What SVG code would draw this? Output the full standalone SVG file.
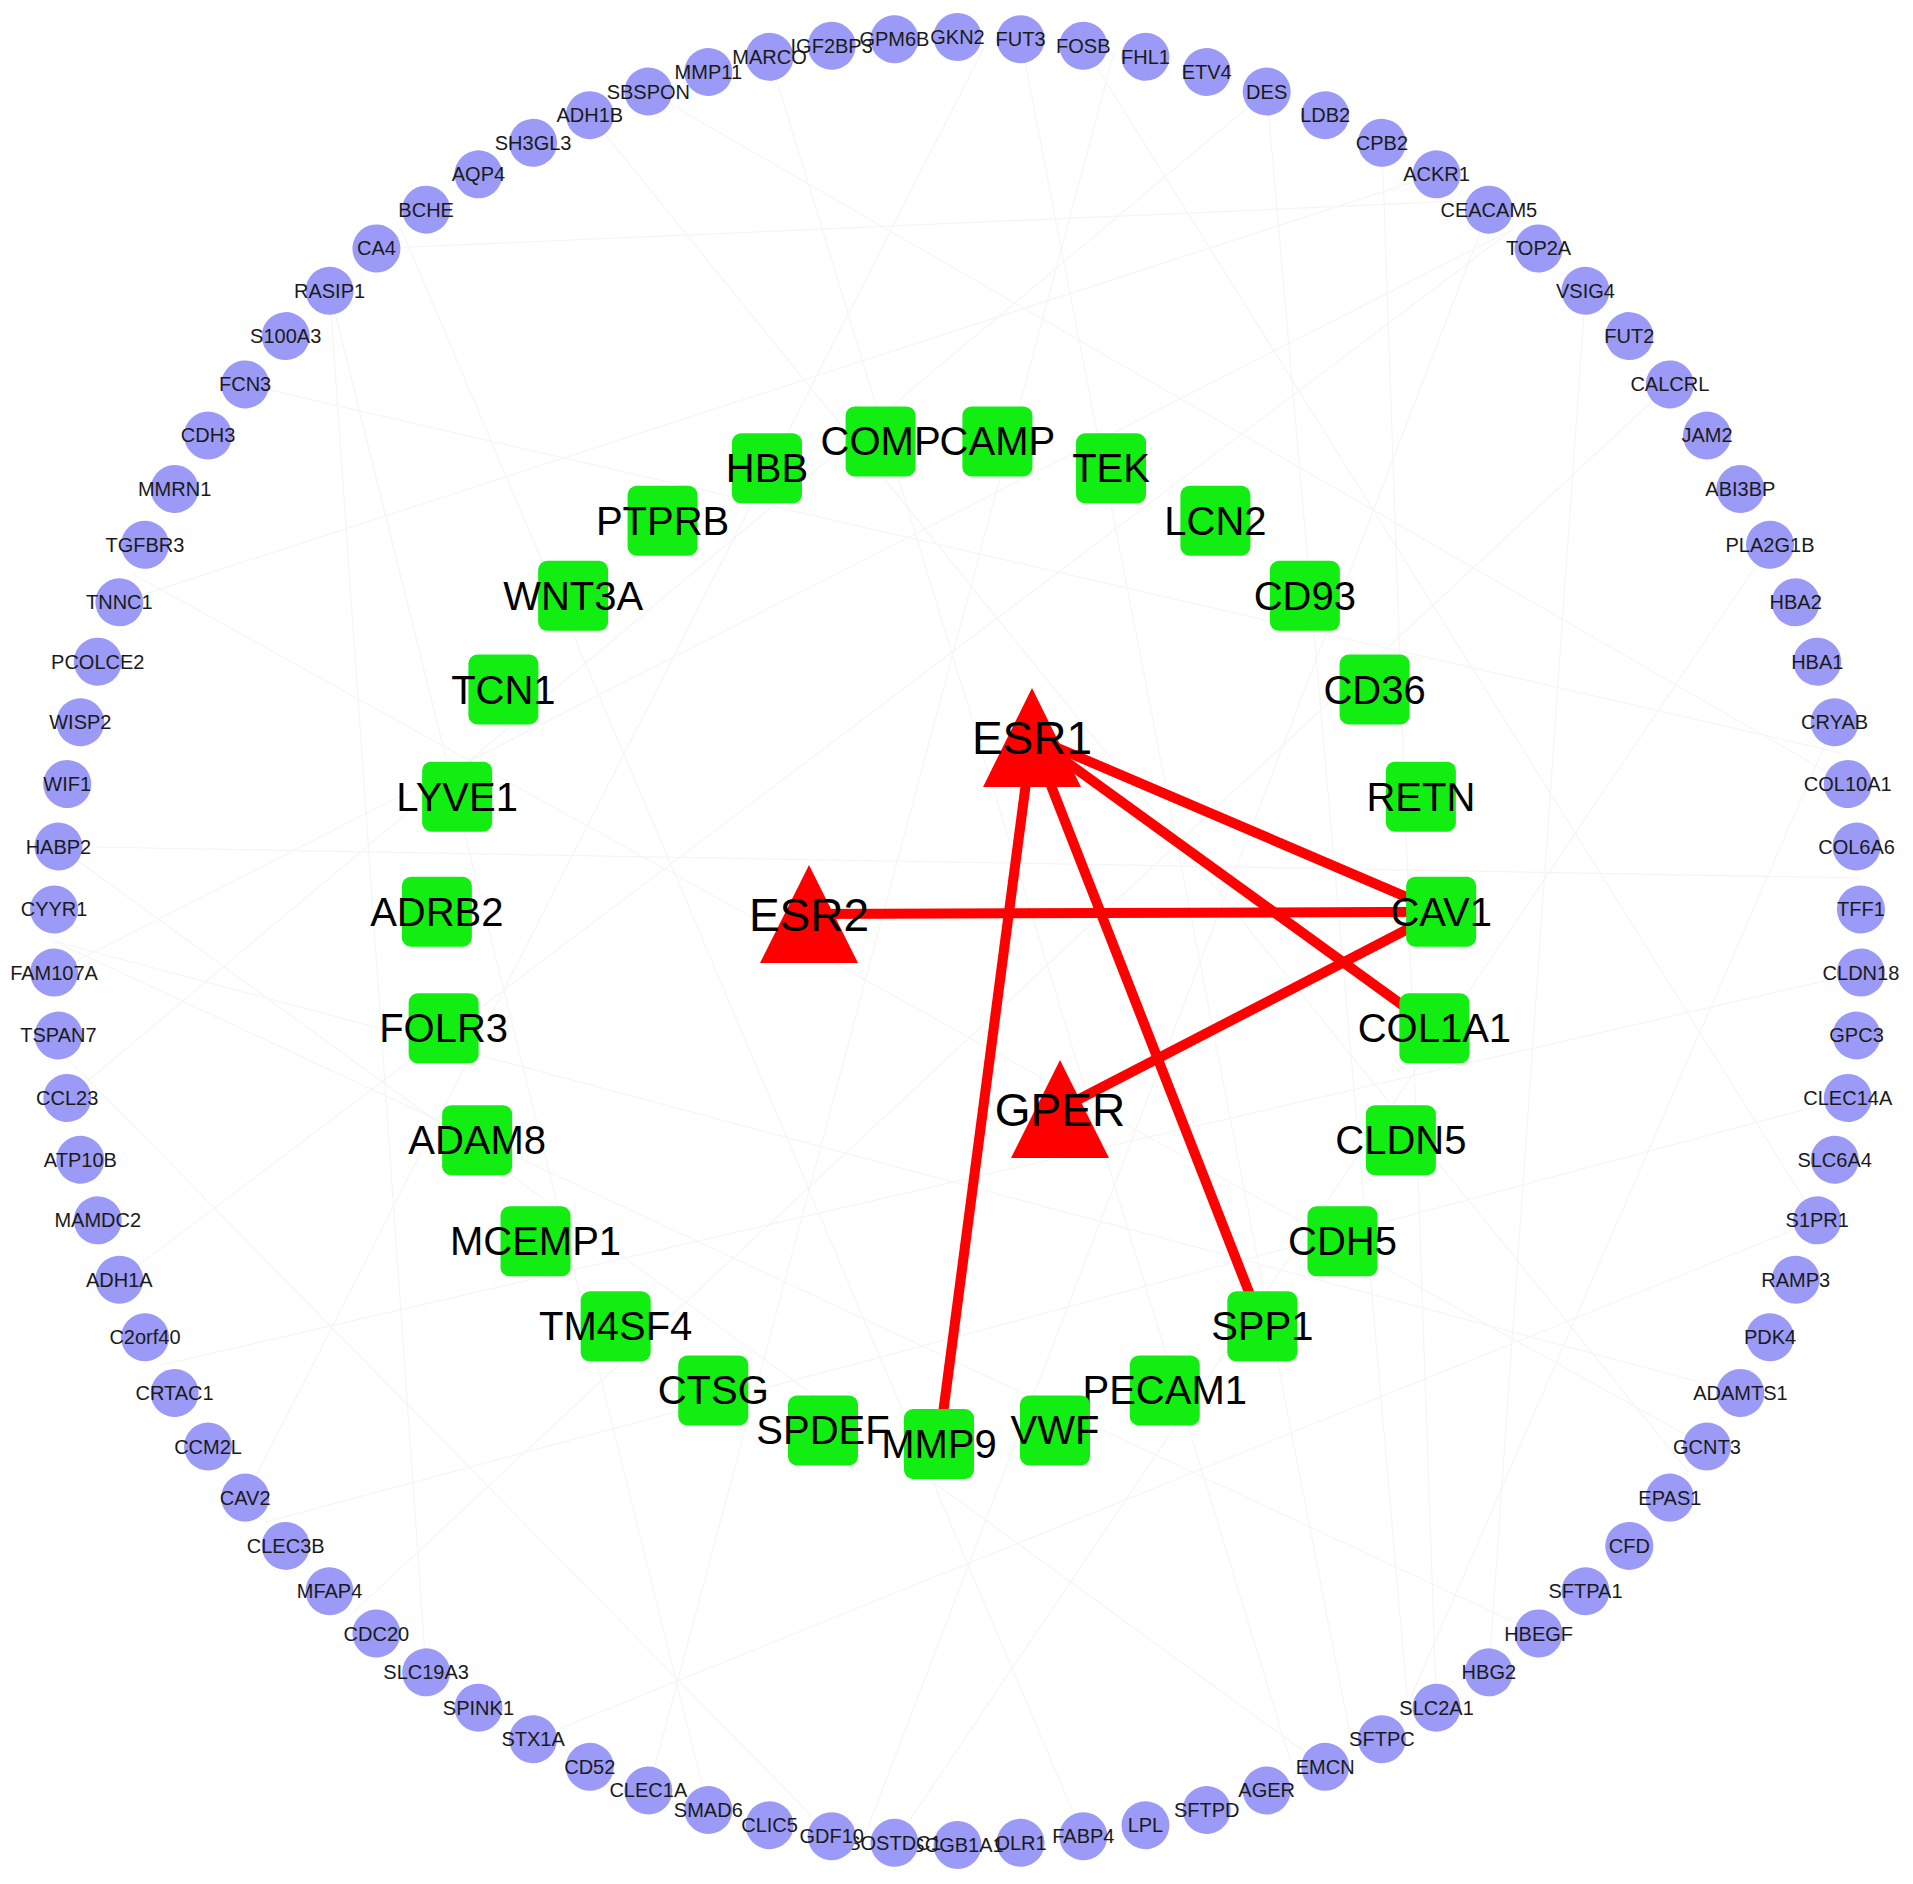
<svg xmlns="http://www.w3.org/2000/svg" xmlns:xlink="http://www.w3.org/1999/xlink" width="1913" height="1884" viewBox="0 0 1913 1884">
<style>
.o circle{fill:#9b9bf7}
.o text{font-family:"Liberation Sans",Arial,sans-serif;font-size:20px;fill:#1a1a1a;text-anchor:middle}
.i rect{fill:#12ee12}
.i text{font-family:"Liberation Sans",Arial,sans-serif;font-size:40px;fill:#000;text-anchor:middle}
.t polygon{fill:#ff0000}
.t text{font-family:"Liberation Sans",Arial,sans-serif;font-size:46px;fill:#000;text-anchor:middle}
.red line{stroke:#ff0000;stroke-width:10;stroke-linecap:butt}
.faint use{stroke:#f5f5f5;stroke-width:1.2}
</style>
<defs>
<line id="c75" x1="957.5" y1="37" x2="1830.7" y2="707"/>
<line id="c100" x1="957.5" y1="37" x2="1847.8" y2="1098"/>
<line id="c120" x1="957.5" y1="37" x2="1740.4" y2="1393"/>
<line id="c130" x1="957.5" y1="37" x2="1650" y2="1522.1"/>
<line id="c150" x1="957.5" y1="37" x2="1409.5" y2="1723.9"/>
<line id="c170" x1="957.5" y1="37" x2="1114.5" y2="1831.3"/>
</defs>
<rect width="1913" height="1884" fill="#fff"/>
<g id="edges">
<g class="faint">
<use xlink:href="#c100" transform="rotate(8 957.5 941)"/>
<use xlink:href="#c130" transform="rotate(20 957.5 941)"/>
<use xlink:href="#c150" transform="rotate(36 957.5 941)"/>
<use xlink:href="#c170" transform="rotate(52 957.5 941)"/>
<use xlink:href="#c120" transform="rotate(64 957.5 941)"/>
<use xlink:href="#c75" transform="rotate(76 957.5 941)"/>
<use xlink:href="#c150" transform="rotate(92 957.5 941)"/>
<use xlink:href="#c100" transform="rotate(108 957.5 941)"/>
<use xlink:href="#c170" transform="rotate(124 957.5 941)"/>
<use xlink:href="#c130" transform="rotate(140 957.5 941)"/>
<use xlink:href="#c120" transform="rotate(156 957.5 941)"/>
<use xlink:href="#c150" transform="rotate(172 957.5 941)"/>
<use xlink:href="#c75" transform="rotate(188 957.5 941)"/>
<use xlink:href="#c170" transform="rotate(200 957.5 941)"/>
<use xlink:href="#c100" transform="rotate(216 957.5 941)"/>
<use xlink:href="#c130" transform="rotate(232 957.5 941)"/>
<use xlink:href="#c150" transform="rotate(248 957.5 941)"/>
<use xlink:href="#c120" transform="rotate(260 957.5 941)"/>
<use xlink:href="#c170" transform="rotate(276 957.5 941)"/>
<use xlink:href="#c100" transform="rotate(292 957.5 941)"/>
<use xlink:href="#c130" transform="rotate(308 957.5 941)"/>
<use xlink:href="#c75" transform="rotate(320 957.5 941)"/>
<use xlink:href="#c150" transform="rotate(336 957.5 941)"/>
<use xlink:href="#c170" transform="rotate(348 957.5 941)"/>
<use xlink:href="#c120" transform="rotate(28 957.5 941)"/>
<use xlink:href="#c100" transform="rotate(44 957.5 941)"/>
<use xlink:href="#c130" transform="rotate(100 957.5 941)"/>
<use xlink:href="#c150" transform="rotate(120 957.5 941)"/>
<use xlink:href="#c120" transform="rotate(196 957.5 941)"/>
<use xlink:href="#c130" transform="rotate(268 957.5 941)"/>
<use xlink:href="#c100" transform="rotate(340 957.5 941)"/>
<use xlink:href="#c150" transform="rotate(4 957.5 941)"/>
</g>
<g class="red">
<line x1="1032" y1="737" x2="1441.1" y2="911.8"/>
<line x1="1032" y1="737" x2="1434.4" y2="1028.3"/>
<line x1="1032" y1="737" x2="1262.3" y2="1326.3"/>
<line x1="1032" y1="737" x2="939" y2="1444"/>
<line x1="809" y1="914" x2="1441.1" y2="911.8"/>
<line x1="1060" y1="1109" x2="1441.1" y2="911.8"/>
</g>
</g>
<g id="outer">
<g id="GKN2" class="o" transform="rotate(0 957.5 941)"><circle cx="957.5" cy="37" r="24"/><text x="957.5" y="44" transform="rotate(0 957.5 37)">GKN2</text></g>
<g id="FUT3" class="o" transform="rotate(4 957.5 941)"><circle cx="957.5" cy="37" r="24"/><text x="957.5" y="44" transform="rotate(-4 957.5 37)">FUT3</text></g>
<g id="FOSB" class="o" transform="rotate(8 957.5 941)"><circle cx="957.5" cy="37" r="24"/><text x="957.5" y="44" transform="rotate(-8 957.5 37)">FOSB</text></g>
<g id="FHL1" class="o" transform="rotate(12 957.5 941)"><circle cx="957.5" cy="37" r="24"/><text x="957.5" y="44" transform="rotate(-12 957.5 37)">FHL1</text></g>
<g id="ETV4" class="o" transform="rotate(16 957.5 941)"><circle cx="957.5" cy="37" r="24"/><text x="957.5" y="44" transform="rotate(-16 957.5 37)">ETV4</text></g>
<g id="DES" class="o" transform="rotate(20 957.5 941)"><circle cx="957.5" cy="37" r="24"/><text x="957.5" y="44" transform="rotate(-20 957.5 37)">DES</text></g>
<g id="LDB2" class="o" transform="rotate(24 957.5 941)"><circle cx="957.5" cy="37" r="24"/><text x="957.5" y="44" transform="rotate(-24 957.5 37)">LDB2</text></g>
<g id="CPB2" class="o" transform="rotate(28 957.5 941)"><circle cx="957.5" cy="37" r="24"/><text x="957.5" y="44" transform="rotate(-28 957.5 37)">CPB2</text></g>
<g id="ACKR1" class="o" transform="rotate(32 957.5 941)"><circle cx="957.5" cy="37" r="24"/><text x="957.5" y="44" transform="rotate(-32 957.5 37)">ACKR1</text></g>
<g id="CEACAM5" class="o" transform="rotate(36 957.5 941)"><circle cx="957.5" cy="37" r="24"/><text x="957.5" y="44" transform="rotate(-36 957.5 37)">CEACAM5</text></g>
<g id="TOP2A" class="o" transform="rotate(40 957.5 941)"><circle cx="957.5" cy="37" r="24"/><text x="957.5" y="44" transform="rotate(-40 957.5 37)">TOP2A</text></g>
<g id="VSIG4" class="o" transform="rotate(44 957.5 941)"><circle cx="957.5" cy="37" r="24"/><text x="957.5" y="44" transform="rotate(-44 957.5 37)">VSIG4</text></g>
<g id="FUT2" class="o" transform="rotate(48 957.5 941)"><circle cx="957.5" cy="37" r="24"/><text x="957.5" y="44" transform="rotate(-48 957.5 37)">FUT2</text></g>
<g id="CALCRL" class="o" transform="rotate(52 957.5 941)"><circle cx="957.5" cy="37" r="24"/><text x="957.5" y="44" transform="rotate(-52 957.5 37)">CALCRL</text></g>
<g id="JAM2" class="o" transform="rotate(56 957.5 941)"><circle cx="957.5" cy="37" r="24"/><text x="957.5" y="44" transform="rotate(-56 957.5 37)">JAM2</text></g>
<g id="ABI3BP" class="o" transform="rotate(60 957.5 941)"><circle cx="957.5" cy="37" r="24"/><text x="957.5" y="44" transform="rotate(-60 957.5 37)">ABI3BP</text></g>
<g id="PLA2G1B" class="o" transform="rotate(64 957.5 941)"><circle cx="957.5" cy="37" r="24"/><text x="957.5" y="44" transform="rotate(-64 957.5 37)">PLA2G1B</text></g>
<g id="HBA2" class="o" transform="rotate(68 957.5 941)"><circle cx="957.5" cy="37" r="24"/><text x="957.5" y="44" transform="rotate(-68 957.5 37)">HBA2</text></g>
<g id="HBA1" class="o" transform="rotate(72 957.5 941)"><circle cx="957.5" cy="37" r="24"/><text x="957.5" y="44" transform="rotate(-72 957.5 37)">HBA1</text></g>
<g id="CRYAB" class="o" transform="rotate(76 957.5 941)"><circle cx="957.5" cy="37" r="24"/><text x="957.5" y="44" transform="rotate(-76 957.5 37)">CRYAB</text></g>
<g id="COL10A1" class="o" transform="rotate(80 957.5 941)"><circle cx="957.5" cy="37" r="24"/><text x="957.5" y="44" transform="rotate(-80 957.5 37)">COL10A1</text></g>
<g id="COL6A6" class="o" transform="rotate(84 957.5 941)"><circle cx="957.5" cy="37" r="24"/><text x="957.5" y="44" transform="rotate(-84 957.5 37)">COL6A6</text></g>
<g id="TFF1" class="o" transform="rotate(88 957.5 941)"><circle cx="957.5" cy="37" r="24"/><text x="957.5" y="44" transform="rotate(-88 957.5 37)">TFF1</text></g>
<g id="CLDN18" class="o" transform="rotate(92 957.5 941)"><circle cx="957.5" cy="37" r="24"/><text x="957.5" y="44" transform="rotate(-92 957.5 37)">CLDN18</text></g>
<g id="GPC3" class="o" transform="rotate(96 957.5 941)"><circle cx="957.5" cy="37" r="24"/><text x="957.5" y="44" transform="rotate(-96 957.5 37)">GPC3</text></g>
<g id="CLEC14A" class="o" transform="rotate(100 957.5 941)"><circle cx="957.5" cy="37" r="24"/><text x="957.5" y="44" transform="rotate(-100 957.5 37)">CLEC14A</text></g>
<g id="SLC6A4" class="o" transform="rotate(104 957.5 941)"><circle cx="957.5" cy="37" r="24"/><text x="957.5" y="44" transform="rotate(-104 957.5 37)">SLC6A4</text></g>
<g id="S1PR1" class="o" transform="rotate(108 957.5 941)"><circle cx="957.5" cy="37" r="24"/><text x="957.5" y="44" transform="rotate(-108 957.5 37)">S1PR1</text></g>
<g id="RAMP3" class="o" transform="rotate(112 957.5 941)"><circle cx="957.5" cy="37" r="24"/><text x="957.5" y="44" transform="rotate(-112 957.5 37)">RAMP3</text></g>
<g id="PDK4" class="o" transform="rotate(116 957.5 941)"><circle cx="957.5" cy="37" r="24"/><text x="957.5" y="44" transform="rotate(-116 957.5 37)">PDK4</text></g>
<g id="ADAMTS1" class="o" transform="rotate(120 957.5 941)"><circle cx="957.5" cy="37" r="24"/><text x="957.5" y="44" transform="rotate(-120 957.5 37)">ADAMTS1</text></g>
<g id="GCNT3" class="o" transform="rotate(124 957.5 941)"><circle cx="957.5" cy="37" r="24"/><text x="957.5" y="44" transform="rotate(-124 957.5 37)">GCNT3</text></g>
<g id="EPAS1" class="o" transform="rotate(128 957.5 941)"><circle cx="957.5" cy="37" r="24"/><text x="957.5" y="44" transform="rotate(-128 957.5 37)">EPAS1</text></g>
<g id="CFD" class="o" transform="rotate(132 957.5 941)"><circle cx="957.5" cy="37" r="24"/><text x="957.5" y="44" transform="rotate(-132 957.5 37)">CFD</text></g>
<g id="SFTPA1" class="o" transform="rotate(136 957.5 941)"><circle cx="957.5" cy="37" r="24"/><text x="957.5" y="44" transform="rotate(-136 957.5 37)">SFTPA1</text></g>
<g id="HBEGF" class="o" transform="rotate(140 957.5 941)"><circle cx="957.5" cy="37" r="24"/><text x="957.5" y="44" transform="rotate(-140 957.5 37)">HBEGF</text></g>
<g id="HBG2" class="o" transform="rotate(144 957.5 941)"><circle cx="957.5" cy="37" r="24"/><text x="957.5" y="44" transform="rotate(-144 957.5 37)">HBG2</text></g>
<g id="SLC2A1" class="o" transform="rotate(148 957.5 941)"><circle cx="957.5" cy="37" r="24"/><text x="957.5" y="44" transform="rotate(-148 957.5 37)">SLC2A1</text></g>
<g id="SFTPC" class="o" transform="rotate(152 957.5 941)"><circle cx="957.5" cy="37" r="24"/><text x="957.5" y="44" transform="rotate(-152 957.5 37)">SFTPC</text></g>
<g id="EMCN" class="o" transform="rotate(156 957.5 941)"><circle cx="957.5" cy="37" r="24"/><text x="957.5" y="44" transform="rotate(-156 957.5 37)">EMCN</text></g>
<g id="AGER" class="o" transform="rotate(160 957.5 941)"><circle cx="957.5" cy="37" r="24"/><text x="957.5" y="44" transform="rotate(-160 957.5 37)">AGER</text></g>
<g id="SFTPD" class="o" transform="rotate(164 957.5 941)"><circle cx="957.5" cy="37" r="24"/><text x="957.5" y="44" transform="rotate(-164 957.5 37)">SFTPD</text></g>
<g id="LPL" class="o" transform="rotate(168 957.5 941)"><circle cx="957.5" cy="37" r="24"/><text x="957.5" y="44" transform="rotate(-168 957.5 37)">LPL</text></g>
<g id="FABP4" class="o" transform="rotate(172 957.5 941)"><circle cx="957.5" cy="37" r="24"/><text x="957.5" y="44" transform="rotate(-172 957.5 37)">FABP4</text></g>
<g id="OLR1" class="o" transform="rotate(176 957.5 941)"><circle cx="957.5" cy="37" r="24"/><text x="957.5" y="44" transform="rotate(-176 957.5 37)">OLR1</text></g>
<g id="SCGB1A1" class="o" transform="rotate(180 957.5 941)"><circle cx="957.5" cy="37" r="24"/><text x="957.5" y="44" transform="rotate(-180 957.5 37)">SCGB1A1</text></g>
<g id="SOSTDC1" class="o" transform="rotate(184 957.5 941)"><circle cx="957.5" cy="37" r="24"/><text x="957.5" y="44" transform="rotate(-184 957.5 37)">SOSTDC1</text></g>
<g id="GDF10" class="o" transform="rotate(188 957.5 941)"><circle cx="957.5" cy="37" r="24"/><text x="957.5" y="44" transform="rotate(-188 957.5 37)">GDF10</text></g>
<g id="CLIC5" class="o" transform="rotate(192 957.5 941)"><circle cx="957.5" cy="37" r="24"/><text x="957.5" y="44" transform="rotate(-192 957.5 37)">CLIC5</text></g>
<g id="SMAD6" class="o" transform="rotate(196 957.5 941)"><circle cx="957.5" cy="37" r="24"/><text x="957.5" y="44" transform="rotate(-196 957.5 37)">SMAD6</text></g>
<g id="CLEC1A" class="o" transform="rotate(200 957.5 941)"><circle cx="957.5" cy="37" r="24"/><text x="957.5" y="44" transform="rotate(-200 957.5 37)">CLEC1A</text></g>
<g id="CD52" class="o" transform="rotate(204 957.5 941)"><circle cx="957.5" cy="37" r="24"/><text x="957.5" y="44" transform="rotate(-204 957.5 37)">CD52</text></g>
<g id="STX1A" class="o" transform="rotate(208 957.5 941)"><circle cx="957.5" cy="37" r="24"/><text x="957.5" y="44" transform="rotate(-208 957.5 37)">STX1A</text></g>
<g id="SPINK1" class="o" transform="rotate(212 957.5 941)"><circle cx="957.5" cy="37" r="24"/><text x="957.5" y="44" transform="rotate(-212 957.5 37)">SPINK1</text></g>
<g id="SLC19A3" class="o" transform="rotate(216 957.5 941)"><circle cx="957.5" cy="37" r="24"/><text x="957.5" y="44" transform="rotate(-216 957.5 37)">SLC19A3</text></g>
<g id="CDC20" class="o" transform="rotate(220 957.5 941)"><circle cx="957.5" cy="37" r="24"/><text x="957.5" y="44" transform="rotate(-220 957.5 37)">CDC20</text></g>
<g id="MFAP4" class="o" transform="rotate(224 957.5 941)"><circle cx="957.5" cy="37" r="24"/><text x="957.5" y="44" transform="rotate(-224 957.5 37)">MFAP4</text></g>
<g id="CLEC3B" class="o" transform="rotate(228 957.5 941)"><circle cx="957.5" cy="37" r="24"/><text x="957.5" y="44" transform="rotate(-228 957.5 37)">CLEC3B</text></g>
<g id="CAV2" class="o" transform="rotate(232 957.5 941)"><circle cx="957.5" cy="37" r="24"/><text x="957.5" y="44" transform="rotate(-232 957.5 37)">CAV2</text></g>
<g id="CCM2L" class="o" transform="rotate(236 957.5 941)"><circle cx="957.5" cy="37" r="24"/><text x="957.5" y="44" transform="rotate(-236 957.5 37)">CCM2L</text></g>
<g id="CRTAC1" class="o" transform="rotate(240 957.5 941)"><circle cx="957.5" cy="37" r="24"/><text x="957.5" y="44" transform="rotate(-240 957.5 37)">CRTAC1</text></g>
<g id="C2orf40" class="o" transform="rotate(244 957.5 941)"><circle cx="957.5" cy="37" r="24"/><text x="957.5" y="44" transform="rotate(-244 957.5 37)">C2orf40</text></g>
<g id="ADH1A" class="o" transform="rotate(248 957.5 941)"><circle cx="957.5" cy="37" r="24"/><text x="957.5" y="44" transform="rotate(-248 957.5 37)">ADH1A</text></g>
<g id="MAMDC2" class="o" transform="rotate(252 957.5 941)"><circle cx="957.5" cy="37" r="24"/><text x="957.5" y="44" transform="rotate(-252 957.5 37)">MAMDC2</text></g>
<g id="ATP10B" class="o" transform="rotate(256 957.5 941)"><circle cx="957.5" cy="37" r="24"/><text x="957.5" y="44" transform="rotate(-256 957.5 37)">ATP10B</text></g>
<g id="CCL23" class="o" transform="rotate(260 957.5 941)"><circle cx="957.5" cy="37" r="24"/><text x="957.5" y="44" transform="rotate(-260 957.5 37)">CCL23</text></g>
<g id="TSPAN7" class="o" transform="rotate(264 957.5 941)"><circle cx="957.5" cy="37" r="24"/><text x="957.5" y="44" transform="rotate(-264 957.5 37)">TSPAN7</text></g>
<g id="FAM107A" class="o" transform="rotate(268 957.5 941)"><circle cx="957.5" cy="37" r="24"/><text x="957.5" y="44" transform="rotate(-268 957.5 37)">FAM107A</text></g>
<g id="CYYR1" class="o" transform="rotate(272 957.5 941)"><circle cx="957.5" cy="37" r="24"/><text x="957.5" y="44" transform="rotate(-272 957.5 37)">CYYR1</text></g>
<g id="HABP2" class="o" transform="rotate(276 957.5 941)"><circle cx="957.5" cy="37" r="24"/><text x="957.5" y="44" transform="rotate(-276 957.5 37)">HABP2</text></g>
<g id="WIF1" class="o" transform="rotate(280 957.5 941)"><circle cx="957.5" cy="37" r="24"/><text x="957.5" y="44" transform="rotate(-280 957.5 37)">WIF1</text></g>
<g id="WISP2" class="o" transform="rotate(284 957.5 941)"><circle cx="957.5" cy="37" r="24"/><text x="957.5" y="44" transform="rotate(-284 957.5 37)">WISP2</text></g>
<g id="PCOLCE2" class="o" transform="rotate(288 957.5 941)"><circle cx="957.5" cy="37" r="24"/><text x="957.5" y="44" transform="rotate(-288 957.5 37)">PCOLCE2</text></g>
<g id="TNNC1" class="o" transform="rotate(292 957.5 941)"><circle cx="957.5" cy="37" r="24"/><text x="957.5" y="44" transform="rotate(-292 957.5 37)">TNNC1</text></g>
<g id="TGFBR3" class="o" transform="rotate(296 957.5 941)"><circle cx="957.5" cy="37" r="24"/><text x="957.5" y="44" transform="rotate(-296 957.5 37)">TGFBR3</text></g>
<g id="MMRN1" class="o" transform="rotate(300 957.5 941)"><circle cx="957.5" cy="37" r="24"/><text x="957.5" y="44" transform="rotate(-300 957.5 37)">MMRN1</text></g>
<g id="CDH3" class="o" transform="rotate(304 957.5 941)"><circle cx="957.5" cy="37" r="24"/><text x="957.5" y="44" transform="rotate(-304 957.5 37)">CDH3</text></g>
<g id="FCN3" class="o" transform="rotate(308 957.5 941)"><circle cx="957.5" cy="37" r="24"/><text x="957.5" y="44" transform="rotate(-308 957.5 37)">FCN3</text></g>
<g id="S100A3" class="o" transform="rotate(312 957.5 941)"><circle cx="957.5" cy="37" r="24"/><text x="957.5" y="44" transform="rotate(-312 957.5 37)">S100A3</text></g>
<g id="RASIP1" class="o" transform="rotate(316 957.5 941)"><circle cx="957.5" cy="37" r="24"/><text x="957.5" y="44" transform="rotate(-316 957.5 37)">RASIP1</text></g>
<g id="CA4" class="o" transform="rotate(320 957.5 941)"><circle cx="957.5" cy="37" r="24"/><text x="957.5" y="44" transform="rotate(-320 957.5 37)">CA4</text></g>
<g id="BCHE" class="o" transform="rotate(324 957.5 941)"><circle cx="957.5" cy="37" r="24"/><text x="957.5" y="44" transform="rotate(-324 957.5 37)">BCHE</text></g>
<g id="AQP4" class="o" transform="rotate(328 957.5 941)"><circle cx="957.5" cy="37" r="24"/><text x="957.5" y="44" transform="rotate(-328 957.5 37)">AQP4</text></g>
<g id="SH3GL3" class="o" transform="rotate(332 957.5 941)"><circle cx="957.5" cy="37" r="24"/><text x="957.5" y="44" transform="rotate(-332 957.5 37)">SH3GL3</text></g>
<g id="ADH1B" class="o" transform="rotate(336 957.5 941)"><circle cx="957.5" cy="37" r="24"/><text x="957.5" y="44" transform="rotate(-336 957.5 37)">ADH1B</text></g>
<g id="SBSPON" class="o" transform="rotate(340 957.5 941)"><circle cx="957.5" cy="37" r="24"/><text x="957.5" y="44" transform="rotate(-340 957.5 37)">SBSPON</text></g>
<g id="MMP11" class="o" transform="rotate(344 957.5 941)"><circle cx="957.5" cy="37" r="24"/><text x="957.5" y="44" transform="rotate(-344 957.5 37)">MMP11</text></g>
<g id="MARCO" class="o" transform="rotate(348 957.5 941)"><circle cx="957.5" cy="37" r="24"/><text x="957.5" y="44" transform="rotate(-348 957.5 37)">MARCO</text></g>
<g id="IGF2BP3" class="o" transform="rotate(352 957.5 941)"><circle cx="957.5" cy="37" r="24"/><text x="957.5" y="44" transform="rotate(-352 957.5 37)">IGF2BP3</text></g>
<g id="GPM6B" class="o" transform="rotate(356 957.5 941)"><circle cx="957.5" cy="37" r="24"/><text x="957.5" y="44" transform="rotate(-356 957.5 37)">GPM6B</text></g>
</g>
<g id="inner">
<g id="COMP" class="i" transform="rotate(353.333 939 941)"><g transform="rotate(-353.333 939 438)"><rect x="904" y="403" width="70" height="70" rx="9"/><text x="939" y="452">COMP</text></g></g>
<g id="CAMP" class="i" transform="rotate(6.667 939 941)"><g transform="rotate(-6.667 939 438)"><rect x="904" y="403" width="70" height="70" rx="9"/><text x="939" y="452">CAMP</text></g></g>
<g id="TEK" class="i" transform="rotate(20 939 941)"><g transform="rotate(-20 939 438)"><rect x="904" y="403" width="70" height="70" rx="9"/><text x="939" y="452">TEK</text></g></g>
<g id="LCN2" class="i" transform="rotate(33.333 939 941)"><g transform="rotate(-33.333 939 438)"><rect x="904" y="403" width="70" height="70" rx="9"/><text x="939" y="452">LCN2</text></g></g>
<g id="CD93" class="i" transform="rotate(46.667 939 941)"><g transform="rotate(-46.667 939 438)"><rect x="904" y="403" width="70" height="70" rx="9"/><text x="939" y="452">CD93</text></g></g>
<g id="CD36" class="i" transform="rotate(60 939 941)"><g transform="rotate(-60 939 438)"><rect x="904" y="403" width="70" height="70" rx="9"/><text x="939" y="452">CD36</text></g></g>
<g id="RETN" class="i" transform="rotate(73.333 939 941)"><g transform="rotate(-73.333 939 438)"><rect x="904" y="403" width="70" height="70" rx="9"/><text x="939" y="452">RETN</text></g></g>
<g id="CAV1" class="i" transform="rotate(86.667 939 941)"><g transform="rotate(-86.667 939 438)"><rect x="904" y="403" width="70" height="70" rx="9"/><text x="939" y="452">CAV1</text></g></g>
<g id="COL1A1" class="i" transform="rotate(100 939 941)"><g transform="rotate(-100 939 438)"><rect x="904" y="403" width="70" height="70" rx="9"/><text x="939" y="452">COL1A1</text></g></g>
<g id="CLDN5" class="i" transform="rotate(113.333 939 941)"><g transform="rotate(-113.333 939 438)"><rect x="904" y="403" width="70" height="70" rx="9"/><text x="939" y="452">CLDN5</text></g></g>
<g id="CDH5" class="i" transform="rotate(126.667 939 941)"><g transform="rotate(-126.667 939 438)"><rect x="904" y="403" width="70" height="70" rx="9"/><text x="939" y="452">CDH5</text></g></g>
<g id="SPP1" class="i" transform="rotate(140 939 941)"><g transform="rotate(-140 939 438)"><rect x="904" y="403" width="70" height="70" rx="9"/><text x="939" y="452">SPP1</text></g></g>
<g id="PECAM1" class="i" transform="rotate(153.333 939 941)"><g transform="rotate(-153.333 939 438)"><rect x="904" y="403" width="70" height="70" rx="9"/><text x="939" y="452">PECAM1</text></g></g>
<g id="VWF" class="i" transform="rotate(166.667 939 941)"><g transform="rotate(-166.667 939 438)"><rect x="904" y="403" width="70" height="70" rx="9"/><text x="939" y="452">VWF</text></g></g>
<g id="MMP9" class="i" transform="rotate(180 939 941)"><g transform="rotate(-180 939 438)"><rect x="904" y="403" width="70" height="70" rx="9"/><text x="939" y="452">MMP9</text></g></g>
<g id="SPDEF" class="i" transform="rotate(193.333 939 941)"><g transform="rotate(-193.333 939 438)"><rect x="904" y="403" width="70" height="70" rx="9"/><text x="939" y="452">SPDEF</text></g></g>
<g id="CTSG" class="i" transform="rotate(206.667 939 941)"><g transform="rotate(-206.667 939 438)"><rect x="904" y="403" width="70" height="70" rx="9"/><text x="939" y="452">CTSG</text></g></g>
<g id="TM4SF4" class="i" transform="rotate(220 939 941)"><g transform="rotate(-220 939 438)"><rect x="904" y="403" width="70" height="70" rx="9"/><text x="939" y="452">TM4SF4</text></g></g>
<g id="MCEMP1" class="i" transform="rotate(233.333 939 941)"><g transform="rotate(-233.333 939 438)"><rect x="904" y="403" width="70" height="70" rx="9"/><text x="939" y="452">MCEMP1</text></g></g>
<g id="ADAM8" class="i" transform="rotate(246.667 939 941)"><g transform="rotate(-246.667 939 438)"><rect x="904" y="403" width="70" height="70" rx="9"/><text x="939" y="452">ADAM8</text></g></g>
<g id="FOLR3" class="i" transform="rotate(260 939 941)"><g transform="rotate(-260 939 438)"><rect x="904" y="403" width="70" height="70" rx="9"/><text x="939" y="452">FOLR3</text></g></g>
<g id="ADRB2" class="i" transform="rotate(273.333 939 941)"><g transform="rotate(-273.333 939 438)"><rect x="904" y="403" width="70" height="70" rx="9"/><text x="939" y="452">ADRB2</text></g></g>
<g id="LYVE1" class="i" transform="rotate(286.667 939 941)"><g transform="rotate(-286.667 939 438)"><rect x="904" y="403" width="70" height="70" rx="9"/><text x="939" y="452">LYVE1</text></g></g>
<g id="TCN1" class="i" transform="rotate(300 939 941)"><g transform="rotate(-300 939 438)"><rect x="904" y="403" width="70" height="70" rx="9"/><text x="939" y="452">TCN1</text></g></g>
<g id="WNT3A" class="i" transform="rotate(313.333 939 941)"><g transform="rotate(-313.333 939 438)"><rect x="904" y="403" width="70" height="70" rx="9"/><text x="939" y="452">WNT3A</text></g></g>
<g id="PTPRB" class="i" transform="rotate(326.667 939 941)"><g transform="rotate(-326.667 939 438)"><rect x="904" y="403" width="70" height="70" rx="9"/><text x="939" y="452">PTPRB</text></g></g>
<g id="HBB" class="i" transform="rotate(340 939 941)"><g transform="rotate(-340 939 438)"><rect x="904" y="403" width="70" height="70" rx="9"/><text x="939" y="452">HBB</text></g></g>
</g>
<g id="hubs">
<g id="ESR1" class="t"><polygon points="1032,688 1081,787 983,787"/><text x="1032" y="753.5">ESR1</text></g>
<g id="ESR2" class="t"><polygon points="809,865 858,963 760,963"/><text x="809" y="930.5">ESR2</text></g>
<g id="GPER" class="t"><polygon points="1060,1060 1109,1158 1011,1158"/><text x="1060" y="1125.5">GPER</text></g>
</g>
</svg>
